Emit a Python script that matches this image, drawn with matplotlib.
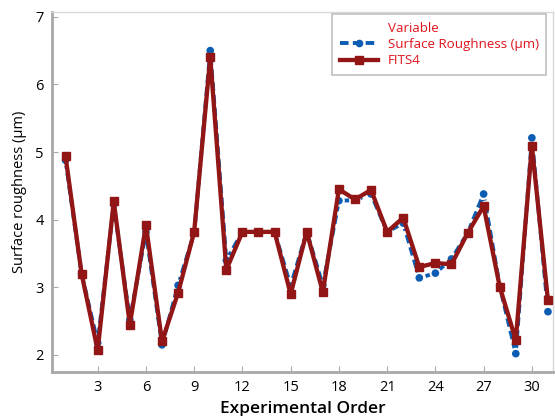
import matplotlib
matplotlib.use('Agg')
import matplotlib.pyplot as plt
from matplotlib.lines import Line2D
import matplotlib.patheffects as pe

plt.rcParams['font.family'] = ['Open Sans', 'DejaVu Sans']

order = list(range(1, 32))

surface_roughness = [4.88, 3.20, 2.18, 4.22, 2.52, 3.82, 2.15, 3.03, 3.80, 6.50,
                     3.40, 3.82, 3.82, 3.82, 3.02, 3.82, 3.03, 4.28, 4.29, 4.38,
                     3.82, 3.95, 3.14, 3.21, 3.42, 3.80, 4.38, 3.02, 2.02, 5.21,
                     2.64]

fits4 = [4.94, 3.20, 2.07, 4.27, 2.45, 3.92, 2.20, 2.92, 3.82, 6.40,
         3.26, 3.82, 3.82, 3.82, 2.90, 3.82, 2.93, 4.45, 4.30, 4.44,
         3.82, 4.03, 3.30, 3.36, 3.34, 3.80, 4.20, 3.01, 2.22, 5.09,
         2.81]

xticks = [3, 6, 9, 12, 15, 18, 21, 24, 27, 30]
yticks = [2, 3, 4, 5, 6, 7]

BLUE = '#0a5db2'
RED = '#921616'
LEGEND_RED = '#e0141e'
SPINE = '#a8a8a8'
DASH = (0, (2.2, 1.1))

fig = plt.figure(figsize=(5.55, 4.16), dpi=100)
ax = fig.add_axes([0.094, 0.106, 0.902, 0.865])

ax.plot(order, surface_roughness, color=BLUE, linestyle=DASH, linewidth=2.8,
        marker='o', markersize=4.5, zorder=2,
        path_effects=[pe.Stroke(linewidth=4.0, foreground='white'), pe.Normal()])
ax.plot(order, fits4, color=RED, linestyle='-', linewidth=3.1,
        marker='s', markersize=5.5, zorder=3)

ax.set_xlim(0.17, 31.3)
ax.set_ylim(1.75, 7.07)
ax.set_xticks(xticks)
ax.set_yticks(yticks)
ax.tick_params(direction='in', length=4, color=SPINE, labelsize=10.5, pad=6)

for side in ['left', 'bottom']:
    ax.spines[side].set_color(SPINE)
    ax.spines[side].set_linewidth(2)
for side in ['top', 'right']:
    ax.spines[side].set_color('#d8d8d8')
    ax.spines[side].set_linewidth(1)

ax.set_xlabel('Experimental Order', fontsize=12.5, fontweight='semibold', labelpad=4)
ax.set_ylabel('Surface roughness (\u00b5m)', fontsize=10.5, labelpad=6)

handles = [
    Line2D([], [], color='none'),
    Line2D([], [], color=BLUE, linestyle=DASH, linewidth=2.8, marker='o', markersize=4.5),
    Line2D([], [], color=RED, linewidth=3.1, marker='s', markersize=5.5),
]
labels = ['Variable', 'Surface Roughness (\u00b5m)', 'FITS4']
leg = ax.legend(handles, labels, loc='upper right', bbox_to_anchor=(1.0, 1.012),
                fancybox=False, edgecolor='#b0b0b0', fontsize=9.6, handlelength=2.9,
                labelspacing=0.25, borderpad=0.55, handletextpad=0.7)
leg.get_frame().set_linewidth(1.2)
for t in leg.get_texts():
    t.set_color(LEGEND_RED)

fig.savefig('out.png', dpi=100)
